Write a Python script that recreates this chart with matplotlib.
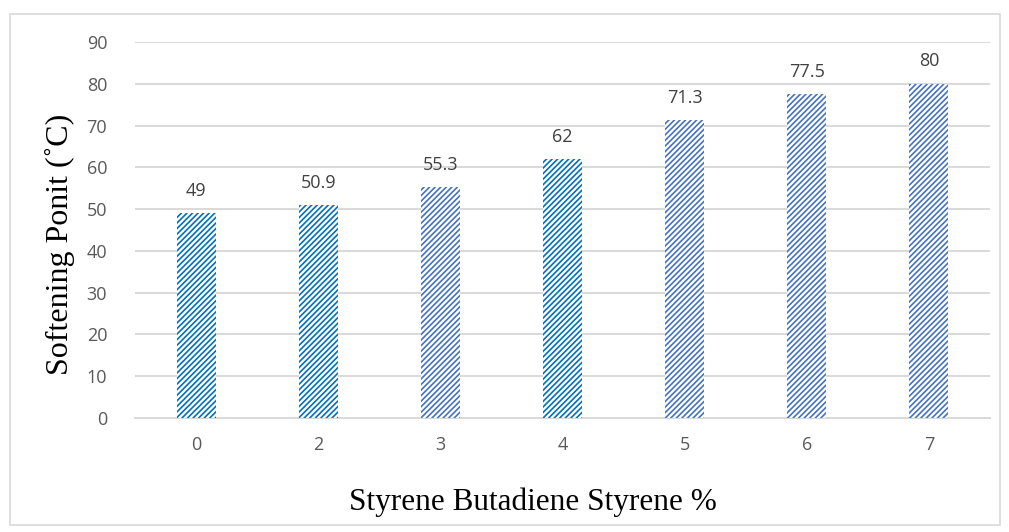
import matplotlib.pyplot as plt
from matplotlib.patches import Rectangle

# softening point vs SBS content
sbs_percent = ['0', '2', '3', '4', '5', '6', '7']
softening_point = [49, 50.9, 55.3, 62, 71.3, 77.5, 80]
bar_colors = ['#0070C0', '#0070C0', '#4472C4', '#0070C0', '#4472C4', '#4472C4', '#4472C4']
y_ticks = [0, 10, 20, 30, 40, 50, 60, 70, 80, 90]

plt.rcParams['hatch.linewidth'] = 1.2

fig = plt.figure(figsize=(10.09, 5.32), dpi=100)
ax = fig.add_axes([135/1009, 1 - 418/532, (990-135)/1009, (418-42)/532])

x = range(len(sbs_percent))
bars = ax.bar(x, softening_point, width=0.32, facecolor='white',
              edgecolor=bar_colors, linewidth=0, hatch='//////', zorder=3)

for b, v in zip(bars, softening_point):
    ax.text(b.get_x() + b.get_width()/2, v + 3.2, f'{v:g}', ha='center', va='bottom',
            fontsize=13, color='#404040', family='Open Sans')

ax.set_ylim(0, 90)
ax.set_xlim(-0.5, len(sbs_percent) - 0.5)
ax.set_yticks(y_ticks)
ax.set_xticks(list(x))
ax.set_xticklabels(sbs_percent)
ax.yaxis.grid(True, color='#D9D9D9', linewidth=1.4)
ax.set_axisbelow(True)
for s in ['top', 'right', 'left']:
    ax.spines[s].set_visible(False)
ax.spines['bottom'].set_color('#D9D9D9')
ax.spines['bottom'].set_linewidth(1.4)
ax.tick_params(length=0, labelsize=13, labelcolor='#595959', pad=13)
ax.tick_params(axis='y', pad=20)
for lab in ax.get_xticklabels() + ax.get_yticklabels():
    lab.set_family('Open Sans')

ax.set_xlabel('Styrene Butadiene Styrene %', family='Liberation Serif', fontsize=22.5,
              labelpad=26)
ax.xaxis.set_label_coords(0.4655, -0.185)
ax.set_ylabel('Softening Ponit (\u02daC)', family='Liberation Serif', fontsize=23,
              labelpad=8)
ax.yaxis.set_label_coords(-0.07, 0.463)

# chart border
fig.patches.append(Rectangle((10/1009, 1 - 525/532), 990/1009, 511/532,
                             transform=fig.transFigure, fill=False,
                             edgecolor='#D9D9D9', linewidth=1.2))

fig.savefig('out.png', dpi=100)
